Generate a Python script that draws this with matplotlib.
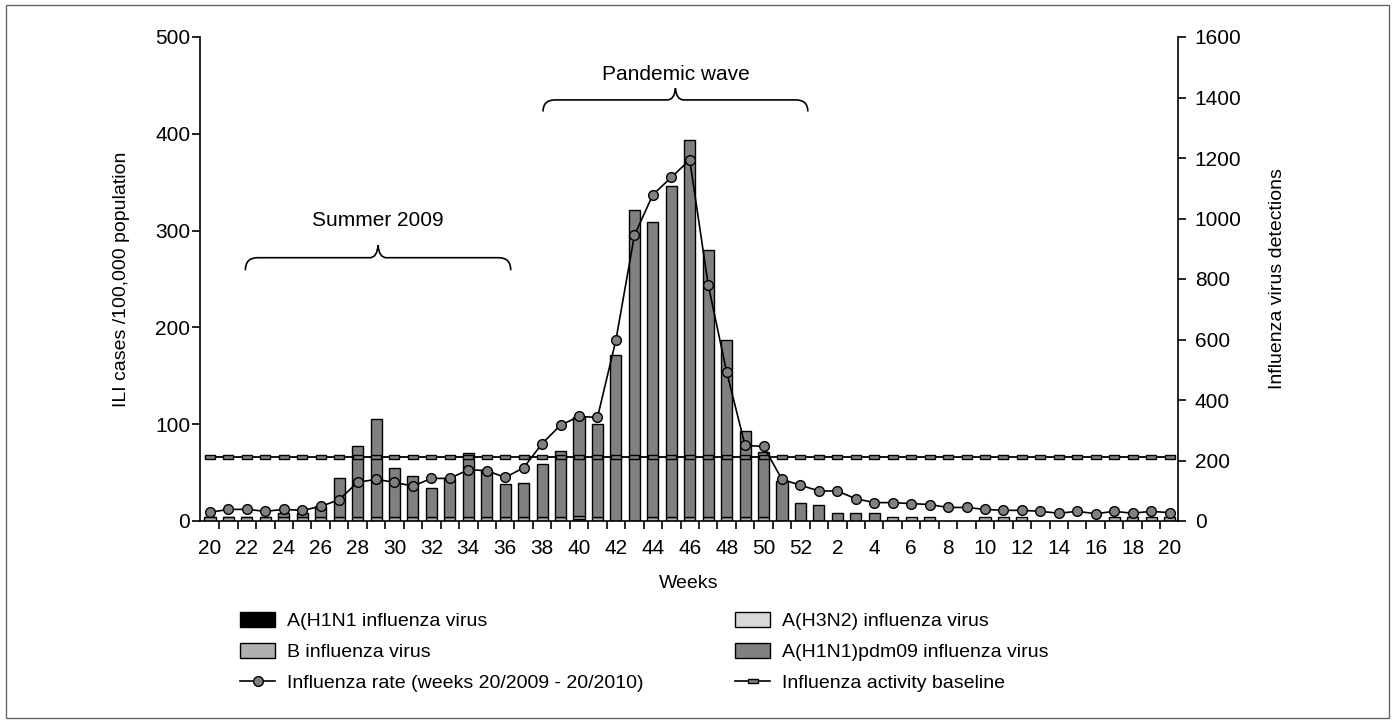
import numpy as np
import matplotlib
matplotlib.use('Agg')
import matplotlib.pyplot as plt
from matplotlib.path import Path
from matplotlib.patches import PathPatch, Patch, Rectangle
from matplotlib.lines import Line2D

# epidemiological weeks 20/2009 - 20/2010
weeks = list(range(20, 53)) + list(range(1, 21))

# influenza virus detections (right axis), stacked
h1n1 = [0] * 53
h3n2 = [0] * 20 + [6] + [0] * 32
b_virus = ([12, 12, 12, 12, 12, 12, 12, 12, 12, 12, 12, 12, 12, 12, 12, 12, 12, 12, 12, 12,
            12, 12, 0, 0, 12, 12, 12, 12, 12, 12, 12, 0, 0]
           + [0, 0, 0, 0, 13, 13, 13, 0, 0, 13, 13, 13, 0, 0, 0, 0, 13, 13, 13, 13])
total_detections = [13, 13, 13, 13, 28, 28, 48, 141, 249, 336, 175, 150, 109, 138, 224, 169,
                    123, 127, 190, 231, 343, 321, 549, 1028, 987, 1109, 1261, 895, 599, 298,
                    227, 133, 58,
                    52, 25, 25, 25, 13, 13, 13, 0, 0, 13, 13, 13, 0, 0, 0, 0, 13, 13, 13, 13]
pdm09 = [t - b - h for t, b, h in zip(total_detections, b_virus, h3n2)]

# ILI rate per 100,000 (left axis)
ili_rate = [9, 12, 12, 10, 12, 11, 15, 22, 40, 43, 40, 36, 44, 44, 53, 52, 45, 55, 80, 99,
            108, 107, 187, 295, 337, 355, 373, 244, 154, 78, 77, 43, 37,
            31, 31, 23, 19, 19, 18, 17, 14, 14, 12, 11, 11, 10, 8, 10, 7.5, 10, 8, 10, 8.6]
baseline = [66] * 53

FONT = ['Liberation Sans Narrow', 'Liberation Sans', 'DejaVu Sans']
plt.rcParams['font.family'] = FONT

C_H1N1 = '#000000'
C_H3N2 = '#d9d9d9'
C_B = '#b0b0b0'
C_PDM = '#808080'

W, H = 1395, 723
fig = plt.figure(figsize=(W / 100, H / 100), dpi=100)
fig.patches.append(Rectangle((6 / W, 5 / H), 1383 / W, 713 / H, transform=fig.transFigure,
                             fill=False, edgecolor='#666666', linewidth=1))

ax_bar = fig.add_axes([200 / W, 1 - 521 / H, 978 / W, 484 / H])
ax = ax_bar.twinx()

x = np.arange(len(weeks))
bw = 0.6
bottom = np.zeros(len(weeks))
for vals, col in [(h1n1, C_H1N1), (h3n2, C_H3N2), (b_virus, C_B), (pdm09, C_PDM)]:
    v = np.array(vals, dtype=float)
    m = v > 0
    ax_bar.bar(x[m], v[m], bw, bottom=bottom[m], color=col, edgecolor='black', linewidth=1.0)
    bottom += v

ax_bar.set_xlim(-0.54, 52.46)
ax_bar.set_ylim(0, 1600)
ax.set_ylim(0, 500)

# rate and baseline on the left scale
rect_marker = Path([(-1, -0.55), (1, -0.55), (1, 0.55), (-1, 0.55), (-1, -0.55)],
                   [Path.MOVETO, Path.LINETO, Path.LINETO, Path.LINETO, Path.CLOSEPOLY])
ax.plot(x, baseline, color='black', linewidth=1.3, marker=rect_marker, markersize=6.5,
        markerfacecolor=C_PDM, markeredgecolor='black', markeredgewidth=1.0)
ax.plot(x, ili_rate, color='black', linewidth=1.2, marker='o', markersize=7,
        markerfacecolor=C_PDM, markeredgecolor='black', markeredgewidth=1.0)

# axes styling
ax_bar.yaxis.tick_right()
ax_bar.yaxis.set_label_position('right')
ax.yaxis.tick_left()
ax.yaxis.set_label_position('left')
for a in (ax_bar, ax):
    a.spines['top'].set_visible(False)
    for s in a.spines.values():
        s.set_linewidth(1.2)
ax.spines['bottom'].set_visible(False)
ax.spines['right'].set_visible(False)
ax_bar.spines['left'].set_visible(False)

ax_bar.set_yticks(range(0, 1601, 200))
ax.set_yticks(range(0, 501, 100))
ax_bar.tick_params(axis='y', direction='out', length=6, width=1.2, pad=6, labelsize=15)
ax.tick_params(axis='y', direction='out', length=6, width=1.2, pad=1, labelsize=15)

ax_bar.set_xticks(x[::2])
ax_bar.set_xticklabels([str(weeks[i]) for i in x[::2]])
ax_bar.set_xticks(np.arange(0.5, 52, 1), minor=True)
ax_bar.tick_params(axis='x', which='major', length=0, pad=13, labelsize=15)
ax_bar.tick_params(axis='x', which='minor', direction='out', length=6, width=1.2)

ax_bar.set_xlabel('Weeks', fontsize=14, labelpad=12)
ax_bar.set_ylabel('Influenza virus detections', fontsize=14, labelpad=20)
ax.set_ylabel('ILI cases /100,000 population', fontsize=14, labelpad=18)


def brace(a, x0, x1, yb, yf, yt, r=0.65):
    xm = (x0 + x1) / 2
    verts = [(x0, yb), (x0, yf), (x0 + r, yf),
             (xm - 0.45, yf), (xm - 0.05, yf), (xm, yt),
             (xm + 0.05, yf), (xm + 0.45, yf),
             (x1 - r, yf), (x1, yf), (x1, yb)]
    codes = [Path.MOVETO, Path.CURVE3, Path.CURVE3,
             Path.LINETO, Path.CURVE3, Path.CURVE3,
             Path.CURVE3, Path.CURVE3,
             Path.LINETO, Path.CURVE3, Path.CURVE3]
    a.add_patch(PathPatch(Path(verts, codes), fill=False, edgecolor='black', linewidth=1.2,
                          clip_on=False))
    return xm


xm = brace(ax, 1.92, 16.3, 259, 272, 285)
ax.text(xm, 310, 'Summer 2009', ha='center', va='center', fontsize=15)
xm = brace(ax, 18.05, 32.4, 423, 435, 447)
ax.text(xm, 461, 'Pandemic wave', ha='center', va='center', fontsize=15)

# legend, two columns
h_left = [Patch(facecolor=C_H1N1, edgecolor='black'),
          Patch(facecolor=C_B, edgecolor='black'),
          Line2D([], [], color='black', marker='o', markersize=7, markerfacecolor=C_PDM,
                 markeredgecolor='black', linewidth=1.2)]
l_left = ['A(H1N1 influenza virus', 'B influenza virus',
          'Influenza rate (weeks 20/2009 - 20/2010)']
h_right = [Patch(facecolor=C_H3N2, edgecolor='black'),
           Patch(facecolor=C_PDM, edgecolor='black'),
           Line2D([], [], color='black', marker=rect_marker, markersize=6.5,
                  markerfacecolor=C_PDM, markeredgecolor='black', linewidth=1.2)]
l_right = ['A(H3N2) influenza virus', 'A(H1N1)pdm09 influenza virus',
           'Influenza activity baseline']
kw = dict(frameon=False, fontsize=14, handlelength=1.8, handleheight=0.8, handletextpad=0.6,
          labelspacing=0.66, borderpad=0, borderaxespad=0, loc='upper left')
fig.legend(h_left, l_left, bbox_to_anchor=(240 / W, 1 - 612 / H), **kw)
fig.legend(h_right, l_right, bbox_to_anchor=(735 / W, 1 - 612 / H), **kw)

fig.savefig('out.png', dpi=100, facecolor='white')
